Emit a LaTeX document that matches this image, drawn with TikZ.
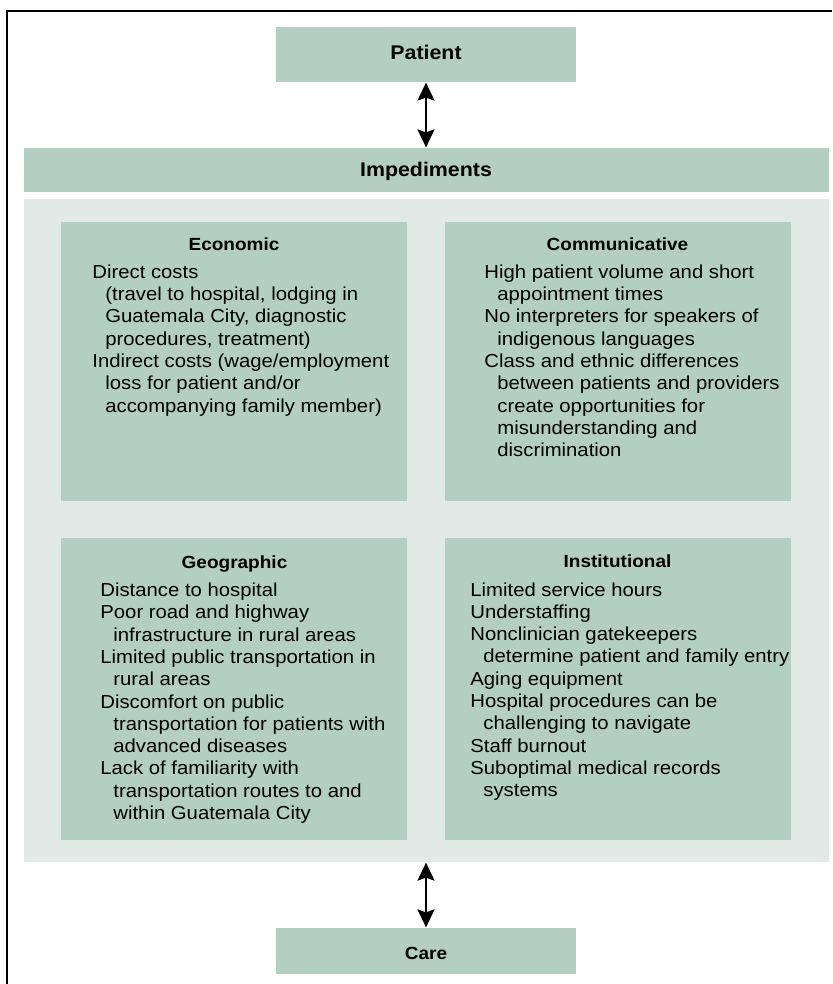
\documentclass[tikz,border=0pt]{standalone}
\usepackage{fontspec}
\setmainfont{Liberation Sans}[FakeStretch=1.08]
\usetikzlibrary{arrows.meta}
\definecolor{boxgreen}{RGB}{179,207,195}
\definecolor{bggreen}{RGB}{225,234,230}
\newcommand{\hind}{\hspace*{6.5pt}}
\tikzset{
  gbox/.style={fill=boxgreen, draw=none, inner sep=0pt, outer sep=0pt},
  lbox/.style={fill=bggreen, draw=none, inner sep=0pt, outer sep=0pt},
  toptitle/.style={anchor=base, inner sep=0pt, font=\fontsize{9.9pt}{12pt}\selectfont\bfseries},
  boxtitle/.style={anchor=base, inner sep=0pt, font=\fontsize{8.8pt}{10.5pt}\selectfont\bfseries},
  bodytext/.style={anchor=base west, inner sep=0pt, font=\fontsize{9.4pt}{11.15pt}\selectfont},
  dblarrow/.style={{Stealth[length=9pt,width=8.5pt,inset=1.5pt]}-{Stealth[length=9pt,width=8.5pt,inset=1.5pt]}, line width=1pt, shorten <=0.3pt, shorten >=0.3pt}
}
\begin{document}
\begin{tikzpicture}[x=0.5pt,y=-0.5pt]
\useasboundingbox (0,0) rectangle (832,984);
% frame (only top and left edges visible)
\draw[line width=0.6pt] (7,984) -- (7,11) -- (832,11);

% boxes
\node[gbox, minimum width=150pt, minimum height=27.5pt] (patient) at (426,54.5) {};
\node[gbox, minimum width=402.5pt, minimum height=22pt] (imped) at (426.5,170) {};
\node[lbox, minimum width=402.5pt, minimum height=331.5pt] (bg) at (426.5,530.5) {};
\node[gbox, minimum width=173pt, minimum height=139.5pt] (econ) at (234,361.5) {};
\node[gbox, minimum width=173pt, minimum height=139.5pt] (comm) at (618,361.5) {};
\node[gbox, minimum width=173pt, minimum height=151pt] (geo) at (234,689) {};
\node[gbox, minimum width=173pt, minimum height=151pt] (inst) at (618,689) {};
\node[gbox, minimum width=150pt, minimum height=23pt] (care) at (426,951) {};

% titles
\node[toptitle] (tpatient) at (426,60) {Patient};
\node[toptitle] (timped) at (426,176.7) {Impediments};
\node[boxtitle] (tcare) at (426,959.3) {Care};
\node[boxtitle] (tecon) at (234,250.3) {Economic};
\node[boxtitle] (tcomm) at (617.5,250.5) {Communicative};
\node[boxtitle] (tgeo) at (234.5,568) {Geographic};
\node[boxtitle] (tinst) at (617.5,567.5) {Institutional};

% body texts
\node[bodytext] (becon) at (92,278.3) {\begin{tabular}[t]{@{}l@{}}
Direct costs\\
\hind(travel to hospital, lodging in\\
\hind Guatemala City, diagnostic\\
\hind procedures, treatment)\\
Indirect costs (wage/employment\\
\hind loss for patient and/or\\
\hind accompanying family member)
\end{tabular}};

\node[bodytext] (bcomm) at (484,278.3) {\begin{tabular}[t]{@{}l@{}}
High patient volume and short\\
\hind appointment times\\
No interpreters for speakers of\\
\hind indigenous languages\\
Class and ethnic differences\\
\hind between patients and providers\\
\hind create opportunities for\\
\hind misunderstanding and\\
\hind discrimination
\end{tabular}};

\node[bodytext] (bgeo) at (100,596.5) {\begin{tabular}[t]{@{}l@{}}
Distance to hospital\\
Poor road and highway\\
\hind infrastructure in rural areas\\
Limited public transportation in\\
\hind rural areas\\
Discomfort on public\\
\hind transportation for patients with\\
\hind advanced diseases\\
Lack of familiarity with\\
\hind transportation routes to and\\
\hind within Guatemala City
\end{tabular}};

\node[bodytext] (binst) at (470,596) {\begin{tabular}[t]{@{}l@{}}
Limited service hours\\
Understaffing\\
Nonclinician gatekeepers\\
\hind determine patient and family entry\\
Aging equipment\\
Hospital procedures can be\\
\hind challenging to navigate\\
Staff burnout\\
Suboptimal medical records\\
\hind systems
\end{tabular}};

% connectors
\draw[dblarrow] (patient.south) -- (patient.south |- imped.north);
\draw[dblarrow] (care.north |- bg.south) -- (care.north);
\end{tikzpicture}
\end{document}
